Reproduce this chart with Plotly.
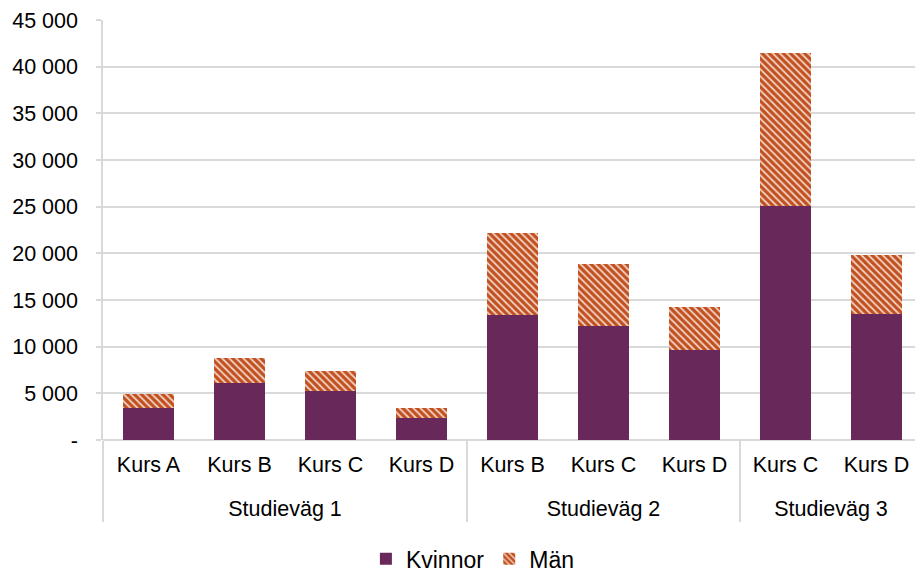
import plotly.graph_objects as go

groups = ["Studieväg 1"] * 4 + ["Studieväg 2"] * 3 + ["Studieväg 3"] * 2
courses = ["Kurs A", "Kurs B", "Kurs C", "Kurs D",
           "Kurs B", "Kurs C", "Kurs D",
           "Kurs C", "Kurs D"]
kvinnor = [3400, 6150, 5300, 2400, 13400, 12250, 9650, 25100, 13500]
totals = [4900, 8800, 7400, 3400, 22150, 18900, 14250, 41450, 19850]
man = [t - k for t, k in zip(totals, kvinnor)]

y_ticks = [0, 5000, 10000, 15000, 20000, 25000, 30000, 35000, 40000, 45000]
y_ticktext = ["-" if v == 0 else f"{v:,}".replace(",", " ") for v in y_ticks]

PURPLE = "#68285A"
ORANGE = "#C0501F"
GRID = "#D9D9D9"
FONT = "Liberation Sans, Arial, sans-serif"

# group label drawn one line lower (leading line break) to match spacing
group_labels = ["<br>" + g for g in groups]

fig = go.Figure()
fig.add_trace(go.Bar(
    name="Kvinnor", x=[group_labels, courses], y=kvinnor,
    marker=dict(color=PURPLE, line=dict(width=0)),
))
fig.add_trace(go.Bar(
    name="Män", x=[group_labels, courses], y=man,
    marker=dict(color=ORANGE, line=dict(width=0),
                pattern=dict(shape="\\", fgcolor="#F3D2C4", bgcolor=ORANGE,
                             size=5, solidity=0.35, fillmode="replace")),
))

fig.update_layout(
    barmode="stack",
    bargap=0.43,
    width=915, height=565,
    margin=dict(l=95, r=1, t=12, b=133, autoexpand=False),
    plot_bgcolor="white", paper_bgcolor="white",
    font=dict(family=FONT, size=21.5, color="#000000"),
    showlegend=True,
    legend=dict(orientation="h", x=0.321, xanchor="left", y=-0.283, yanchor="middle",
                font=dict(size=23), traceorder="normal", itemwidth=30),
    xaxis=dict(
        type="multicategory",
        automargin=False,
        showdividers=True, dividercolor=GRID, dividerwidth=1.5,
        showline=False, showgrid=False, ticks="",
        tickfont=dict(size=21.5),
        ticklabelstandoff=9,
    ),
    yaxis=dict(
        automargin=False,
        range=[0, 45000],
        tickvals=y_ticks, ticktext=y_ticktext,
        showgrid=True, gridcolor=GRID, gridwidth=1.5,
        showline=True, linecolor=GRID, linewidth=1.5,
        ticks="outside", ticklen=5, tickcolor=GRID, tickwidth=1.5,
        zeroline=True, zerolinecolor=GRID, zerolinewidth=1.5,
        tickfont=dict(size=21.5),
        ticklabelstandoff=14,
    ),
)

fig.write_html("out.html")
